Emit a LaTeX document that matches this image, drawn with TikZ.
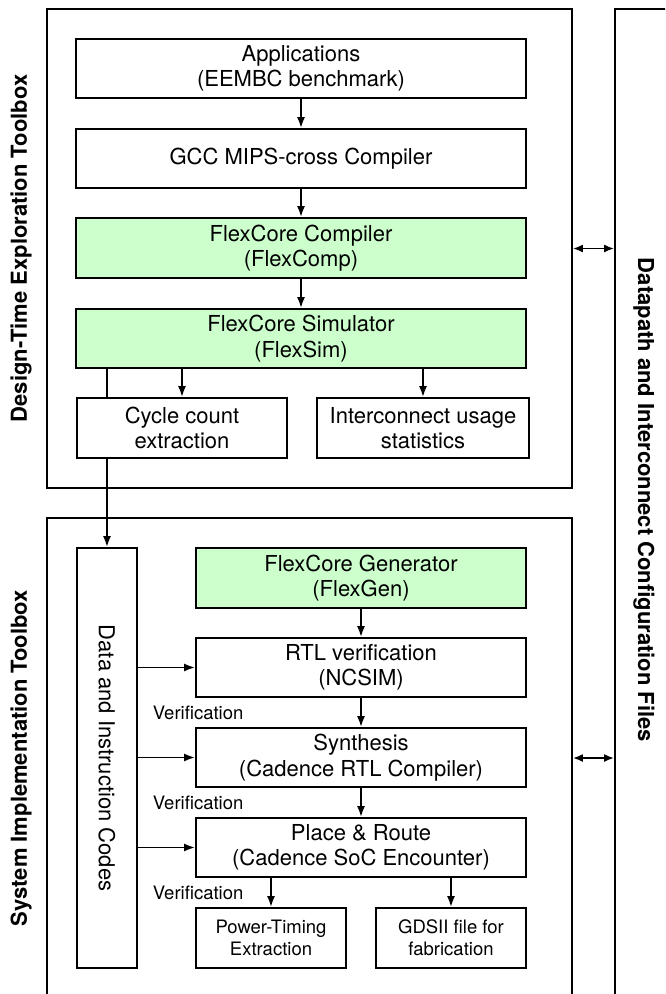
\documentclass[tikz,border=0pt]{standalone}
\usepackage{fontspec}
\setmainfont{TeX Gyre Heros}
\usetikzlibrary{arrows.meta}
\definecolor{flexgreen}{RGB}{204,255,204}

\begin{document}
\begin{tikzpicture}[x=1pt,y=-1pt,line width=1.8pt,
  box/.style={draw,fill=white,inner sep=0pt,align=center,font=\fontsize{22}{25.5}\selectfont},
  tool/.style={box,fill=flexgreen},
  small/.style={box,font=\fontsize{18.5}{22}\selectfont},
  frame/.style={draw,inner sep=0pt},
  title/.style={font=\fontsize{22}{26}\selectfont\bfseries},
  arr/.style={-{Latex[length=11pt,width=8pt]}},
  both/.style={{Latex[length=10pt,width=8pt]}-{Latex[length=10pt,width=8pt]}}]
\useasboundingbox (0,0) rectangle (665,994);
\clip (0,0) rectangle (665,994);
% the three frames
\node[frame,minimum width=525,minimum height=479] (dte) at (309.5,248.5) {};
\node[frame,minimum width=525,minimum height=480] (sit) at (309.5,758) {};
\node[frame,minimum width=100,minimum height=989] (cfg) at (665,503.5) {};
\node[title,rotate=90] (dtelbl) at (21,248.5) {Design-Time Exploration Toolbox};
\node[title,rotate=90] (sitlbl) at (21,758) {System Implementation Toolbox};
\node[title,rotate=-90] (cfglbl) at (644,500) {Datapath and Interconnect Configuration Files};
\draw[both] (dte.east) -- (dte.east -| cfg.west);
\draw[both] (sit.east) -- (sit.east -| cfg.west);
% design-time flow
\node[box,minimum width=450,minimum height=59] (app) at (301,68.5) {Applications\\(EEMBC benchmark)};
\node[box,minimum width=450,minimum height=59] (gcc) at (301,158.5) {GCC MIPS-cross Compiler};
\node[tool,minimum width=450,minimum height=60] (comp) at (301,248) {FlexCore Compiler\\(FlexComp)};
\node[tool,minimum width=450,minimum height=59] (sim) at (301,338.5) {FlexCore Simulator\\(FlexSim)};
\node[box,minimum width=60,minimum height=420] (data) at (107,758) {\rotatebox{-90}{Data and Instruction Codes}};
\draw[arr] (sim.south -| data.north) -- (data.north);
\node[box,minimum width=210,minimum height=60] (cyc) at (182,428) {Cycle count\\extraction};
\node[box,minimum width=212,minimum height=60] (stat) at (423,428) {Interconnect usage\\statistics};
\draw[arr] (app) -- (gcc);
\draw[arr] (gcc) -- (comp);
\draw[arr] (comp) -- (sim);
\draw[arr] (sim.south -| cyc.north) -- (cyc.north);
\draw[arr] (sim.south -| stat.north) -- (stat.north);
% implementation flow
\node[tool,minimum width=330,minimum height=60] (gen) at (361,578) {FlexCore Generator\\(FlexGen)};
\node[box,minimum width=330,minimum height=59] (rtl) at (361,667.5) {RTL verification\\(NCSIM)};
\node[box,minimum width=330,minimum height=59] (syn) at (361,757.5) {Synthesis\\(Cadence RTL Compiler)};
\node[box,minimum width=330,minimum height=59] (pr) at (361,847.5) {Place \& Route\\(Cadence SoC Encounter)};
\node[small,minimum width=150,minimum height=60] (pwr) at (271,938) {Power-Timing\\Extraction};
\node[small,minimum width=150,minimum height=60] (gds) at (451,938) {GDSII file for\\fabrication};
\draw[arr] (gen) -- (rtl);
\draw[arr] (rtl) -- (syn);
\draw[arr] (syn) -- (pr);
\draw[arr] (pr.south -| pwr.north) -- (pwr.north);
\draw[arr] (pr.south -| gds.north) -- (gds.north);
\foreach \n in {rtl,syn,pr} { \draw[arr] (data.east |- \n.west) -- (\n.west); }
\foreach \y [count=\i] in {712.5,802.5,892.5} { \node[font=\fontsize{18.5}{22}\selectfont,anchor=west,inner sep=0pt] (ver\i) at (152,\y) {Verification}; }
\end{tikzpicture}
\end{document}
